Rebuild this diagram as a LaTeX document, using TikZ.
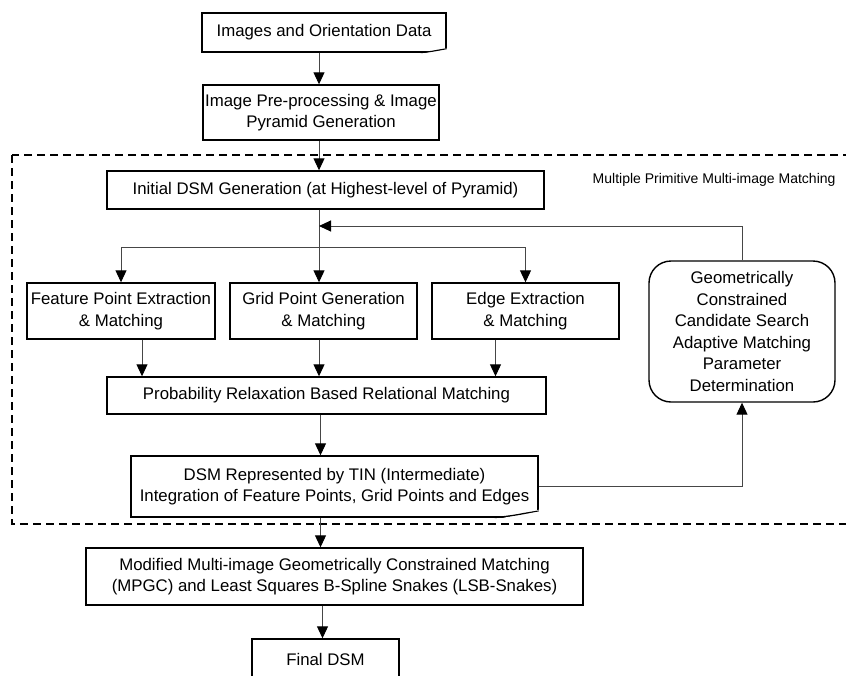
\documentclass[tikz,border=0pt]{standalone}
\usepackage{fontspec}
\setmainfont{Liberation Sans}
\usepackage{tikz}
\usetikzlibrary{shapes,arrows,arrows.meta,positioning,calc}
\definecolor{wire}{RGB}{70,70,70}
\tikzstyle{process} = [rectangle, draw=black, line width=1.4pt, inner sep=0pt,
                       align=center, text centered, font=\fontsize{16.8}{21.5}\selectfont]
\tikzstyle{control} = [process, rounded corners=22pt]
\tikzstyle{arrow} = [line width=1pt, draw=wire, ->, >={Triangle[width=11pt,length=12pt,color=black]}]
\tikzstyle{group} = [dash pattern=on 8pt off 5pt, line width=1.3pt]
\tikzstyle{note} = [font=\fontsize{14}{16}\selectfont]
\tikzset{pagecurl/.pic={
  \fill[white] (-27,1.5) -- (1.5,1.5) -- (1.5,-5) -- cycle;
  \filldraw[line width=1pt, fill=black!55] (-26,0) .. controls (-14,-1) and (-6,-3) .. (0,-4)
     -- (-9,-2.5) .. controls (-14,-1.5) .. (-26,0) -- cycle;
}}

\begin{document}
\begin{tikzpicture}[x=1pt, y=-1pt]
                \useasboundingbox (0,0) rectangle (846,675);

                % Matching frame
                \draw[group] (12,155) rectangle (862,524);
                \node[note, anchor=east] (frametitle) at (839,180) {Multiple Primitive Multi-image Matching};

                % Input and preprocessing
                \node[process, minimum width=244, minimum height=39] (imgs) at (324,32.5) {Images and Orientation Data};
                \pic at (imgs.south east) {pagecurl};
                \node[process, minimum width=236, minimum height=55] (prep) at (321,112.5) {Image Pre-processing \& Image\\Pyramid Generation};

                % Initial DSM
                \node[process, minimum width=437, minimum height=38] (init) at (325.5,190) {Initial DSM Generation (at Highest-level of Pyramid)};
                \coordinate (spine) at (319,0);
                \coordinate (back) at (319,226);
                \coordinate (fork) at (319,247);

                % Primitives
                \node[process, minimum width=188, minimum height=56] (feat) at (121,311) {Feature Point Extraction\\\& Matching};
                \node[process, minimum width=187, minimum height=56] (grid) at (323.5,311) {Grid Point Generation\\\& Matching};
                \node[process, minimum width=187, minimum height=56] (edge) at (525.5,311) {Edge Extraction\\\& Matching};
                \node[control, minimum width=186, minimum height=141] (geo) at (742,331.5) {Geometrically\\Constrained\\Candidate Search\\Adaptive Matching\\Parameter\\Determination};

                % Relaxation and intermediate DSM
                \node[process, minimum width=439, minimum height=37] (prob) at (326.5,395.5) {Probability Relaxation Based Relational Matching};
                \node[process, minimum width=407, minimum height=61] (dsm) at (334.5,486.5) {DSM Represented by TIN (Intermediate)\\Integration of Feature Points, Grid Points and Edges};
                \pic[scale=1.7] at (dsm.south east) {pagecurl};

                % Refinement
                \node[process, minimum width=497, minimum height=57] (mpgc) at (334.5,576.5) {Modified Multi-image Geometrically Constrained Matching\\(MPGC) and Least Squares B-Spline Snakes (LSB-Snakes)};
                \node[process, minimum width=147, minimum height=40] (final) at (325.5,659) {Final DSM};
                \pic[scale=0.6] at (final.south east) {pagecurl};

                % Arrows
                \draw[arrow] (imgs.south -| spine) -- (prep.north -| spine);
                \draw[arrow] (prep.south -| spine) -- (init.north -| spine);
                \draw[arrow] (init.south -| spine) -- (grid.north -| spine);
                \draw[arrow] (fork) -| (feat.north);
                \draw[arrow] (fork) -| (edge.north);
                \draw[arrow] ([xshift=21pt]feat.south) -- ([xshift=21pt]feat.south |- prob.north);
                \draw[arrow] (grid.south -| spine) -- (prob.north -| spine);
                \draw[arrow] ([xshift=-30pt]edge.south) -- ([xshift=-30pt]edge.south |- prob.north);
                \draw[arrow] ([xshift=-6pt]prob.south) -- ([xshift=-6pt]prob.south |- dsm.north);
                \draw[arrow] ([xshift=-6pt]prob.south |- dsm.south) -- ([xshift=-6pt]prob.south |- mpgc.north);
                \draw[arrow] ([xshift=-3pt]final.north |- mpgc.south) -- ([xshift=-3pt]final.north);
                \draw[arrow] (dsm.east) -| (geo.south);
                \draw[arrow] (geo.north) |- (back);
            \end{tikzpicture}
\end{document}
